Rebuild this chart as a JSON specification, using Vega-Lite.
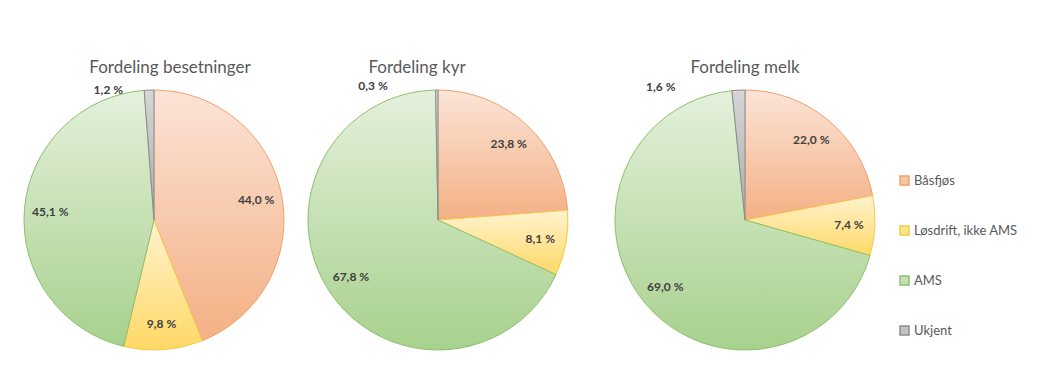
{
  "$schema": "https://vega.github.io/schema/vega-lite/v6.json",
  "background": "white",
  "padding": {"left": 12, "top": 59, "right": 0, "bottom": 0},
  "spacing": 0,
  "bounds": "flush",
  "config": {
    "view": {"stroke": null},
    "font": "Lato",
    "title": {"fontSize": 17, "fontWeight": "normal", "color": "#595959", "offset": 3, "font": "Lato"}
  },
  "datasets": {
    "pie": [
      {"diagram": "besetninger", "kat": "Båsfjøs", "andel": 44.0},
      {"diagram": "besetninger", "kat": "Løsdrift, ikke AMS", "andel": 9.8},
      {"diagram": "besetninger", "kat": "AMS", "andel": 45.1},
      {"diagram": "besetninger", "kat": "Ukjent", "andel": 1.2},
      {"diagram": "kyr", "kat": "Båsfjøs", "andel": 23.8},
      {"diagram": "kyr", "kat": "Løsdrift, ikke AMS", "andel": 8.1},
      {"diagram": "kyr", "kat": "AMS", "andel": 67.8},
      {"diagram": "kyr", "kat": "Ukjent", "andel": 0.3},
      {"diagram": "melk", "kat": "Båsfjøs", "andel": 22.0},
      {"diagram": "melk", "kat": "Løsdrift, ikke AMS", "andel": 7.4},
      {"diagram": "melk", "kat": "AMS", "andel": 69.0},
      {"diagram": "melk", "kat": "Ukjent", "andel": 1.6}
    ]
  },
  "resolve": {"scale": {"theta": "independent"}},
  "hconcat": [
    {
      "width": 284, "height": 280,
      "title": {"text": "Fordeling besetninger", "dx": 16},
      "data": {"name": "pie"},
      "transform": [
        {"filter": "datum.diagram === 'besetninger'"},
        {"calculate": "replace(format(datum.andel, '.1f'), '.', ',') + ' %'", "as": "etikett"},
        {"calculate": "indexof(['Båsfjøs','Løsdrift, ikke AMS','AMS','Ukjent'], datum.kat)", "as": "rekkefolge"}
      ],
      "encoding": {
        "theta": {"field": "andel", "type": "quantitative", "stack": true},
        "order": {"field": "rekkefolge", "type": "quantitative"}
      },
      "layer": [
        {
          "mark": {"type": "arc", "outerRadius": 130, "strokeWidth": 1},
          "encoding": {
            "fill": {"field": "kat", "type": "nominal", "title": null,
              "scale": {"domain": ["Båsfjøs", "Løsdrift, ikke AMS", "AMS", "Ukjent"], "range": ["#f7c4a4", "#ffe38f", "#c4e0b1", "#c4c4c4"]},
              "condition": [
                {"test": "datum.kat === 'Båsfjøs'", "value": {"gradient": "linear", "x1": 0, "y1": 0, "x2": 0, "y2": 1, "stops": [{"offset": 0, "color": "#fbe4d7"}, {"offset": 1, "color": "#f4b084"}]}},
                {"test": "datum.kat === 'Løsdrift, ikke AMS'", "value": {"gradient": "linear", "x1": 0, "y1": 0, "x2": 0, "y2": 1, "stops": [{"offset": 0, "color": "#fff3cf"}, {"offset": 1, "color": "#ffd865"}]}},
                {"test": "datum.kat === 'AMS'", "value": {"gradient": "linear", "x1": 0, "y1": 0, "x2": 0, "y2": 1, "stops": [{"offset": 0, "color": "#e4f0dc"}, {"offset": 1, "color": "#a8d18d"}]}},
                {"test": "datum.kat === 'Ukjent'", "value": {"gradient": "linear", "x1": 0, "y1": 0, "x2": 0, "y2": 1, "stops": [{"offset": 0, "color": "#d6d6d6"}, {"offset": 1, "color": "#ababab"}]}}
              ],
              "legend": {"orient": "none", "legendX": 886, "legendY": 94, "symbolType": "square", "symbolSize": 80, "labelFontSize": 13, "labelColor": "#595959", "labelFont": "Lato", "rowPadding": 35, "labelOffset": 3}
            },
            "stroke": {"field": "kat", "type": "nominal", "title": null,
              "scale": {"domain": ["Båsfjøs", "Løsdrift, ikke AMS", "AMS", "Ukjent"], "range": ["#f0a06c", "#f7c94a", "#8cc06c", "#8c8c8c"]}
            }
          }
        },
        {
          "mark": {"type": "text", "radius": 104, "fontWeight": "bold", "fontSize": 12, "fill": "#404040", "font": "Lato"},
          "encoding": {
            "detail": {"field": "kat", "type": "nominal"},
            "text": {"condition": {"test": "datum.kat !== 'Ukjent'", "field": "etikett"}, "value": ""}
          }
        },
        {
          "transform": [
            {"window": [{"op": "sum", "field": "andel", "as": "slutt"}], "sort": [{"field": "rekkefolge"}], "frame": [null, 0]},
            {"filter": "datum.kat === 'Ukjent'"},
            {"calculate": "datum.slutt - datum.andel / 2", "as": "midt"}
          ],
          "mark": {"type": "text", "radius": 130, "dx": -26, "dy": 0, "align": "right", "fontWeight": "bold", "fontSize": 12, "fill": "#404040", "font": "Lato"},
          "encoding": {
            "theta": {"field": "midt", "type": "quantitative", "stack": null},
            "text": {"field": "etikett"}
          }
        }
      ]
    },
    {
      "width": 284, "height": 280,
      "title": {"text": "Fordeling kyr", "dx": -21},
      "data": {"name": "pie"},
      "transform": [
        {"filter": "datum.diagram === 'kyr'"},
        {"calculate": "replace(format(datum.andel, '.1f'), '.', ',') + ' %'", "as": "etikett"},
        {"calculate": "indexof(['Båsfjøs','Løsdrift, ikke AMS','AMS','Ukjent'], datum.kat)", "as": "rekkefolge"}
      ],
      "encoding": {
        "theta": {"field": "andel", "type": "quantitative", "stack": true},
        "order": {"field": "rekkefolge", "type": "quantitative"}
      },
      "layer": [
        {
          "mark": {"type": "arc", "outerRadius": 130, "strokeWidth": 1},
          "encoding": {
            "fill": {"field": "kat", "type": "nominal", "title": null,
              "condition": [
                {"test": "datum.kat === 'Båsfjøs'", "value": {"gradient": "linear", "x1": 0, "y1": 0, "x2": 0, "y2": 1, "stops": [{"offset": 0, "color": "#fbe4d7"}, {"offset": 1, "color": "#f4b084"}]}},
                {"test": "datum.kat === 'Løsdrift, ikke AMS'", "value": {"gradient": "linear", "x1": 0, "y1": 0, "x2": 0, "y2": 1, "stops": [{"offset": 0, "color": "#fff3cf"}, {"offset": 1, "color": "#ffd865"}]}},
                {"test": "datum.kat === 'AMS'", "value": {"gradient": "linear", "x1": 0, "y1": 0, "x2": 0, "y2": 1, "stops": [{"offset": 0, "color": "#e4f0dc"}, {"offset": 1, "color": "#a8d18d"}]}},
                {"test": "datum.kat === 'Ukjent'", "value": {"gradient": "linear", "x1": 0, "y1": 0, "x2": 0, "y2": 1, "stops": [{"offset": 0, "color": "#d6d6d6"}, {"offset": 1, "color": "#ababab"}]}}
              ]
            },
            "stroke": {"field": "kat", "type": "nominal", "title": null}
          }
        },
        {
          "mark": {"type": "text", "radius": 104, "fontWeight": "bold", "fontSize": 12, "fill": "#404040", "font": "Lato"},
          "encoding": {
            "detail": {"field": "kat", "type": "nominal"},
            "text": {"condition": {"test": "datum.kat !== 'Ukjent'", "field": "etikett"}, "value": ""}
          }
        },
        {
          "transform": [
            {"window": [{"op": "sum", "field": "andel", "as": "slutt"}], "sort": [{"field": "rekkefolge"}], "frame": [null, 0]},
            {"filter": "datum.kat === 'Ukjent'"},
            {"calculate": "datum.slutt - datum.andel / 2", "as": "midt"}
          ],
          "mark": {"type": "text", "radius": 130, "dx": -49, "dy": -4, "align": "right", "fontWeight": "bold", "fontSize": 12, "fill": "#404040", "font": "Lato"},
          "encoding": {
            "theta": {"field": "midt", "type": "quantitative", "stack": null},
            "text": {"field": "etikett"}
          }
        }
      ]
    },
    {
      "width": 330, "height": 280,
      "title": {"text": "Fordeling melk", "dx": 0},
      "data": {"name": "pie"},
      "transform": [
        {"filter": "datum.diagram === 'melk'"},
        {"calculate": "replace(format(datum.andel, '.1f'), '.', ',') + ' %'", "as": "etikett"},
        {"calculate": "indexof(['Båsfjøs','Løsdrift, ikke AMS','AMS','Ukjent'], datum.kat)", "as": "rekkefolge"}
      ],
      "encoding": {
        "theta": {"field": "andel", "type": "quantitative", "stack": true},
        "order": {"field": "rekkefolge", "type": "quantitative"}
      },
      "layer": [
        {
          "mark": {"type": "arc", "outerRadius": 130, "strokeWidth": 1},
          "encoding": {
            "fill": {"field": "kat", "type": "nominal", "title": null,
              "condition": [
                {"test": "datum.kat === 'Båsfjøs'", "value": {"gradient": "linear", "x1": 0, "y1": 0, "x2": 0, "y2": 1, "stops": [{"offset": 0, "color": "#fbe4d7"}, {"offset": 1, "color": "#f4b084"}]}},
                {"test": "datum.kat === 'Løsdrift, ikke AMS'", "value": {"gradient": "linear", "x1": 0, "y1": 0, "x2": 0, "y2": 1, "stops": [{"offset": 0, "color": "#fff3cf"}, {"offset": 1, "color": "#ffd865"}]}},
                {"test": "datum.kat === 'AMS'", "value": {"gradient": "linear", "x1": 0, "y1": 0, "x2": 0, "y2": 1, "stops": [{"offset": 0, "color": "#e4f0dc"}, {"offset": 1, "color": "#a8d18d"}]}},
                {"test": "datum.kat === 'Ukjent'", "value": {"gradient": "linear", "x1": 0, "y1": 0, "x2": 0, "y2": 1, "stops": [{"offset": 0, "color": "#d6d6d6"}, {"offset": 1, "color": "#ababab"}]}}
              ]
            },
            "stroke": {"field": "kat", "type": "nominal", "title": null}
          }
        },
        {
          "mark": {"type": "text", "radius": 104, "fontWeight": "bold", "fontSize": 12, "fill": "#404040", "font": "Lato"},
          "encoding": {
            "detail": {"field": "kat", "type": "nominal"},
            "text": {"condition": {"test": "datum.kat !== 'Ukjent'", "field": "etikett"}, "value": ""}
          }
        },
        {
          "transform": [
            {"window": [{"op": "sum", "field": "andel", "as": "slutt"}], "sort": [{"field": "rekkefolge"}], "frame": [null, 0]},
            {"filter": "datum.kat === 'Ukjent'"},
            {"calculate": "datum.slutt - datum.andel / 2", "as": "midt"}
          ],
          "mark": {"type": "text", "radius": 130, "dx": -63, "dy": -3, "align": "right", "fontWeight": "bold", "fontSize": 12, "fill": "#404040", "font": "Lato"},
          "encoding": {
            "theta": {"field": "midt", "type": "quantitative", "stack": null},
            "text": {"field": "etikett"}
          }
        }
      ]
    }
  ]
}
